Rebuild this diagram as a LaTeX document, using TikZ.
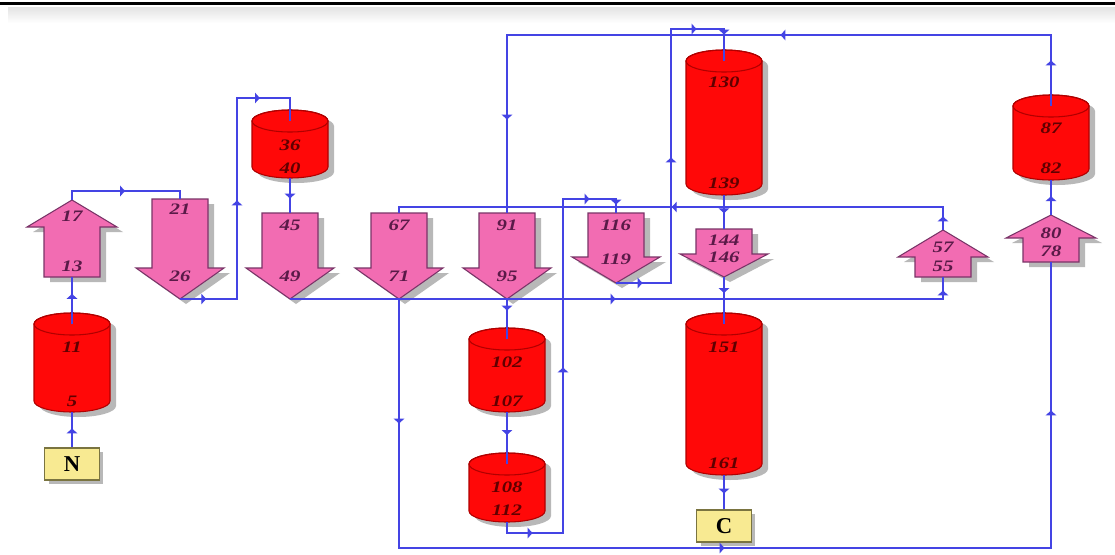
\documentclass[tikz,border=0pt]{standalone}
\usepackage{fontspec}
\setmainfont{Liberation Serif}
\usetikzlibrary{arrows.meta,decorations.markings,shadows}
\definecolor{lnblue}{HTML}{4444E4}
\definecolor{strpink}{HTML}{F26CB2}
\definecolor{strline}{HTML}{7A3468}
\definecolor{strtxt}{HTML}{5A1A48}
\definecolor{hxred}{HTML}{FF0808}
\definecolor{hxline}{HTML}{B00000}
\definecolor{hxtxt}{HTML}{600000}
\definecolor{termfill}{HTML}{F8EA92}
\definecolor{termline}{HTML}{7A7440}
\definecolor{shgray}{HTML}{B8B8B8}
\tikzset{
  flow/.style={draw=lnblue,color=lnblue,line width=1.1pt},
  mk/.style={postaction={decorate,decoration={markings,
      mark=at position #1 with {\arrow{Latex[length=4pt,width=9pt]}}}}},
  strlab/.style={font=\fontsize{12}{12}\selectfont\bfseries\itshape,text=strtxt,inner sep=0pt,xscale=1.3},
  hxlab/.style={font=\fontsize{12}{12}\selectfont\bfseries\itshape,text=hxtxt,inner sep=0pt,xscale=1.3},
  termbox/.style={draw=termline,fill=termfill,line width=0.8pt,minimum width=41pt,
      minimum height=24pt,inner sep=0pt,font=\fontsize{17}{17}\selectfont\bfseries,
      general shadow={fill=shgray,shadow xshift=3pt,shadow yshift=-3pt}},
  strbody/.style={fill=strpink,draw=strline,line width=0.8pt,line join=miter},
  hxbody/.style={fill=hxred,draw=hxline,line width=0.8pt}
}
% down strand: name xc ytop yheadbase ytip lab1 y1 lab2 y2
\newcommand\dstr[9]{%
  \fill[shgray,shift={(6,5)}] ({#2-28},#3) -- ({#2+28},#3) -- ({#2+28},#4) -- ({#2+44},#4) -- (#2,#5) -- ({#2-44},#4) -- ({#2-28},#4) -- cycle;
  \filldraw[strbody] ({#2-28},#3) -- ({#2+28},#3) -- ({#2+28},#4) -- ({#2+44},#4) -- (#2,#5) -- ({#2-44},#4) -- ({#2-28},#4) -- cycle;
  \node[strlab] at (#2,#7) {#6};
  \node[strlab] at (#2,#9) {#8};
  \coordinate (#1-top) at (#2,#3);
  \coordinate (#1-bot) at (#2,#5);
}
% up strand: name xc ybot yheadbase ytip lab1 y1 lab2 y2
\newcommand\ustr[9]{%
  \fill[shgray,shift={(6,5)}] ({#2-28},#3) -- ({#2+28},#3) -- ({#2+28},#4) -- ({#2+45},#4) -- (#2,#5) -- ({#2-45},#4) -- ({#2-28},#4) -- cycle;
  \filldraw[strbody] ({#2-28},#3) -- ({#2+28},#3) -- ({#2+28},#4) -- ({#2+45},#4) -- (#2,#5) -- ({#2-45},#4) -- ({#2-28},#4) -- cycle;
  \node[strlab] at (#2,#7) {#6};
  \node[strlab] at (#2,#9) {#8};
  \coordinate (#1-top) at (#2,#5);
  \coordinate (#1-bot) at (#2,#3);
}
% cylinder: name xc ytop ybot lab1 y1 lab2 y2
\newcommand\cyl[8]{%
  \fill[shgray,shift={(6,5)}] ({#2-38},{#3+11}) -- ({#2-38},{#4-11})
     arc[start angle=180,end angle=360,x radius=28.5pt,y radius=8.25pt]
     -- ({#2+38},{#3+11})
     arc[start angle=0,end angle=180,x radius=28.5pt,y radius=8.25pt] -- cycle;
  \filldraw[hxbody] ({#2-38},{#3+11}) -- ({#2-38},{#4-11})
     arc[start angle=180,end angle=360,x radius=28.5pt,y radius=8.25pt]
     -- ({#2+38},{#3+11})
     arc[start angle=0,end angle=180,x radius=28.5pt,y radius=8.25pt] -- cycle;
  \draw[hxline,line width=0.8pt] (#2,{#3+11}) ellipse [x radius=28.5pt,y radius=8.25pt];
  \node[hxlab] at (#2,#6) {#5};
  \node[hxlab] at (#2,#8) {#7};
  \coordinate (#1-top) at (#2,{#3+11});
  \coordinate (#1-bot) at (#2,#4);
}
\begin{document}
\begin{tikzpicture}[x=0.75pt,y=-0.75pt]
\useasboundingbox (0,0) rectangle (1115,554);
\fill[white] (0,0) rectangle (1115,554);
\fill[black] (0,2) rectangle (1115,4.5);
\shade[top color=gray!22,bottom color=white] (8,7) rectangle (1115,23);

% helices
\cyl{c1}{72}{313}{412}{11}{347}{5}{401}
\cyl{c2}{290}{110}{178}{36}{145}{40}{168}
\cyl{c3}{724}{50}{195}{130}{82}{139}{183}
\cyl{c4}{1051}{95}{180}{87}{128}{82}{168}
\cyl{c5}{507}{328}{412}{102}{362}{107}{401}
\cyl{c6}{507}{453}{522}{108}{487}{112}{510}
\cyl{c7}{724}{313}{475}{151}{347}{161}{463}

% strands
\ustr{s1}{72}{277}{227}{200}{17}{216}{13}{266}
\dstr{s2}{180}{199}{268}{299}{21}{209}{26}{276}
\dstr{s3}{290}{213}{268}{299}{45}{225}{49}{276}
\dstr{s5}{399}{213}{268}{299}{67}{225}{71}{276}
\dstr{s7}{507}{213}{268}{299}{91}{225}{95}{276}
\dstr{s8}{616}{213}{257}{283}{116}{225}{119}{259}
\dstr{s9}{724}{229}{254}{277}{144}{240}{146}{257}
\ustr{s4}{943}{277}{257}{230}{57}{247}{55}{266}
\ustr{s6}{1051}{262}{238}{215}{80}{233}{78}{251}

% termini
\node[termbox] (N) at (72,464) {N};
\node[termbox] (C) at (724,526) {C};

% connections
\draw[flow,mk=0.55] (N) -- (c1-bot);
\draw[flow,mk=0.65] (c1-top) -- (s1-bot);
\draw[flow,mk=0.5] (s1-top) -- (72,191) -- (180,191) -- (s2-top);
\draw[flow,mk=20pt,mk=117pt,mk=211pt] (s2-bot) -- (237,299) -- (237,98) -- (290,98) -- (c2-top);
\draw[flow,mk=0.6] (c2-bot) -- (s3-top);
\draw[flow,mk=244.5pt,mk=496.5pt] (s3-bot) -- (943,299) -- (s4-bot);
\draw[flow,mk=10.5pt,mk=221pt] (s4-top) -- (943,207) -- (399,207) -- (s5-top);
\draw[flow,mk=93.75pt,mk=431.25pt,mk=779.25pt] (s5-bot) -- (399,548) -- (1051,548) -- (s6-bot);
\draw[flow,mk=0.55] (s6-top) -- (c4-bot);
\draw[flow,mk=34.5pt,mk=256.5pt,mk=525pt] (c4-top) -- (1051,35) -- (507,35) -- (s7-top);
\draw[flow,mk=0.3] (s7-bot) -- (c5-top);
\draw[flow,mk=0.45] (c5-bot) -- (c6-top);
\draw[flow,mk=27.75pt,mk=174.75pt,mk=321pt,mk=345pt] (c6-bot) -- (507,533) -- (563,533) -- (563,199) -- (616,199) -- (s8-top);
\draw[flow,mk=20.25pt,mk=135.75pt,mk=251.25pt,mk=276pt] (s8-bot) -- (671,283) -- (671,29) -- (724,29) -- (c3-top);
\draw[flow,mk=0.55] (c3-bot) -- (s9-top);
\draw[flow,mk=0.35] (s9-bot) -- (c7-top);
\draw[flow,mk=0.55] (c7-bot) -- (C);
\end{tikzpicture}
\end{document}
